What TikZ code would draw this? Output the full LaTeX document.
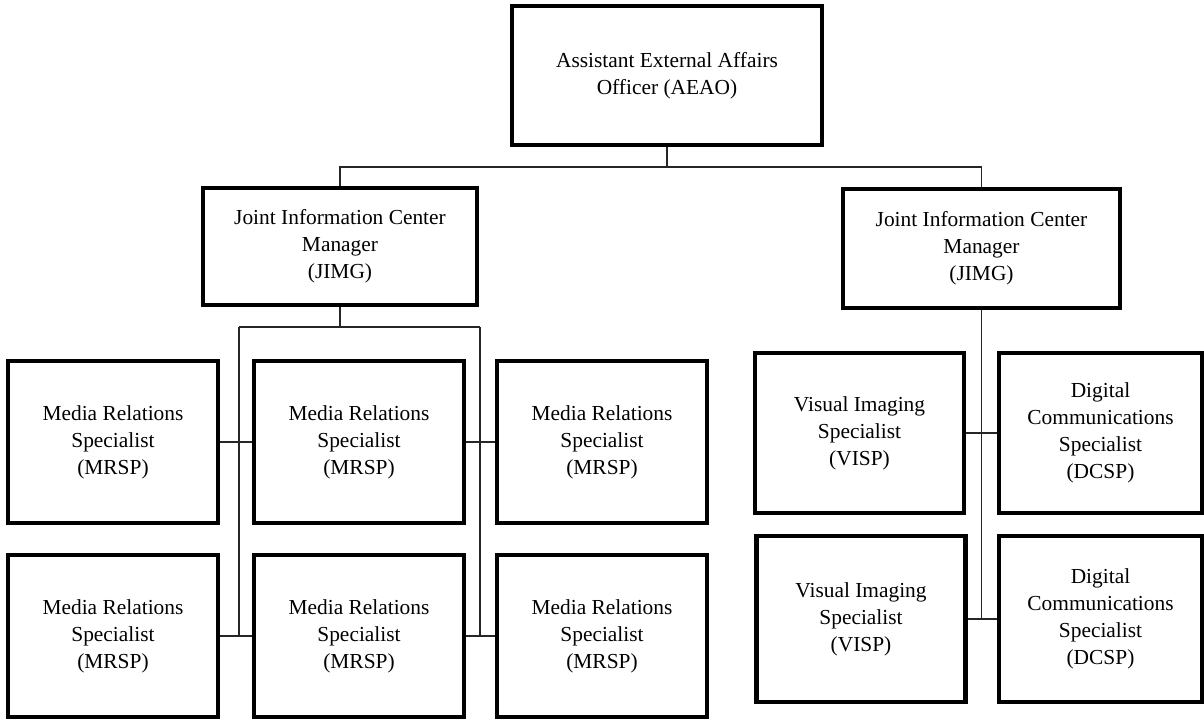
\documentclass[tikz,border=0pt]{standalone}
\usepackage{fontspec}
\setmainfont{Liberation Serif}
\usepackage{tikz}
\usetikzlibrary{positioning,calc}

\begin{document}
\begin{tikzpicture}[x=0.5pt, y=-0.5pt,
    post/.style={draw=black, line width=2.2pt, align=center, inner sep=0pt,
      font=\fontsize{10.7}{13.5}\selectfont},
    link/.style={draw=black!85, line width=0.75pt}]
  \useasboundingbox (0,0) rectangle (1204,719);
  % top level
  \node[post, minimum width=155pt, minimum height=69.5pt] (aeao) at (667,75.5)
    {Assistant External Affairs\\Officer (AEAO)};
  \node[post, minimum width=137pt, minimum height=58.5pt] (jimgL) at (340,246.5)
    {Joint Information Center\\Manager\\(JIMG)};
  \node[post, minimum width=138.5pt, minimum height=59.5pt] (jimgR) at (981.5,248.5)
    {Joint Information Center\\Manager\\(JIMG)};
  % media relations
  \node[post, minimum width=105pt, minimum height=81pt] (mrsp11) at (113,442) {Media Relations\\Specialist\\(MRSP)};
  \node[post, minimum width=105pt, minimum height=81pt] (mrsp12) at (359,442) {Media Relations\\Specialist\\(MRSP)};
  \node[post, minimum width=105pt, minimum height=81pt] (mrsp13) at (602,442) {Media Relations\\Specialist\\(MRSP)};
  \node[post, minimum width=105pt, minimum height=81pt] (mrsp21) at (113,636) {Media Relations\\Specialist\\(MRSP)};
  \node[post, minimum width=105pt, minimum height=81pt] (mrsp22) at (359,636) {Media Relations\\Specialist\\(MRSP)};
  \node[post, minimum width=105pt, minimum height=81pt] (mrsp23) at (602,636) {Media Relations\\Specialist\\(MRSP)};
  % imaging and digital
  \node[post, minimum width=104.5pt, minimum height=80pt] (visp1) at (859.5,433) {Visual Imaging\\Specialist\\(VISP)};
  \node[post, minimum width=104.5pt, minimum height=83pt] (visp2) at (861,619) {Visual Imaging\\Specialist\\(VISP)};
  \node[post, minimum width=101.5pt, minimum height=80pt] (dcsp1) at (1100.5,433) {Digital\\Communications\\Specialist\\(DCSP)};
  \node[post, minimum width=101.5pt, minimum height=83pt] (dcsp2) at (1100.5,619) {Digital\\Communications\\Specialist\\(DCSP)};

  \coordinate (topbus) at (667,167);
  \coordinate (busL) at (340,327);
  \coordinate (busLa) at (239,327);
  \coordinate (busLb) at (480,327);

  \draw[link] (aeao.south) -- (topbus) -| (jimgL.north);
  \draw[link] (topbus) -| (jimgR.north);
  \draw[link] (jimgL.south) -- (busL);
  \draw[link] (busLa) -- (busLb);
  \draw[link] (busLa) -- (busLa |- mrsp21.east);
  \draw[link] (busLb) -- (busLb |- mrsp22.east);
  \draw[link] (mrsp11.east) -- (mrsp12.west);
  \draw[link] (mrsp12.east) -- (mrsp13.west);
  \draw[link] (mrsp21.east) -- (mrsp22.west);
  \draw[link] (mrsp22.east) -- (mrsp23.west);
  \draw[link] (jimgR.south) -- (jimgR.south |- visp2.east);
  \draw[link] (visp1.east) -- (dcsp1.west);
  \draw[link] (visp2.east) -- (dcsp2.west);
\end{tikzpicture}
\end{document}
